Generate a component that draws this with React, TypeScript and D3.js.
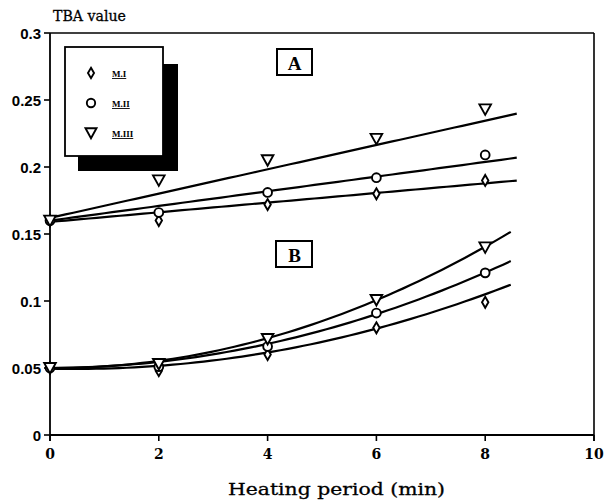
import React from "react";
import * as d3 from "d3";

// ---- data ----
const xValues = [0, 2, 4, 6, 8];
const seriesNames = ["M.I", "M.II", "M.III"];
const seriesShapes = ["diamond", "circle", "triangle"];

// Group A (linear trend)
const groupA_MI = [0.16, 0.16, 0.172, 0.18, 0.19];
const groupA_MII = [0.16, 0.166, 0.181, 0.192, 0.209];
const groupA_MIII = [0.16, 0.19, 0.205, 0.221, 0.243];
// Group B (quadratic trend)
const groupB_MI = [0.05, 0.048, 0.06, 0.08, 0.099];
const groupB_MII = [0.05, 0.051, 0.066, 0.091, 0.121];
const groupB_MIII = [0.05, 0.053, 0.0716, 0.1007, 0.14];

// fitted curve coefficients [a, b, c] for y = a + b x + c x^2
const fitA_MI = [0.159, 0.0036, 0];
const fitA_MII = [0.16, 0.00547, 0];
const fitA_MIII = [0.162, 0.00907, 0];
const fitB_MI = [0.0495, -0.0009, 0.00098];
const fitB_MII = [0.05, 0.0001, 0.0011];
const fitB_MIII = [0.05, -0.0002, 0.00144];
const fitEndA = 8.58;
const fitEndB = 8.47;

const xTicks = [0, 2, 4, 6, 8, 10];
const yTicks = [0, 0.05, 0.1, 0.15, 0.2, 0.25, 0.3];
const yTickLabels = ["0", "0.05", "0.1", "0.15", "0.2", "0.25", "0.3"];
const xTickLabels = ["0", "2", "4", "6", "8", "10"];

const groupA = [groupA_MI, groupA_MII, groupA_MIII];
const groupB = [groupB_MI, groupB_MII, groupB_MIII];
const fitsA = [fitA_MI, fitA_MII, fitA_MIII];
const fitsB = [fitB_MI, fitB_MII, fitB_MIII];

const W = 606;
const H = 502;
const left = 50, right = 594, top = 33, bottom = 435;

const x = d3.scaleLinear().domain([0, 10]).range([left, right]);
const y = d3.scaleLinear().domain([0, 0.3]).range([bottom, top]);

function Marker({ shape, cx, cy, s = 1 }: { shape: string; cx: number; cy: number; s?: number }) {
  const common = { fill: "#fff", stroke: "#000", strokeWidth: 1.9 };
  if (shape === "diamond") {
    const p = `${cx},${cy - 5.5 * s} ${cx + 3.2 * s},${cy} ${cx},${cy + 5.5 * s} ${cx - 3.2 * s},${cy}`;
    return <polygon points={p} {...common} />;
  }
  if (shape === "circle") {
    return <circle cx={cx} cy={cy} r={4.4 * s} {...common} />;
  }
  const p = `${cx - 5.8 * s},${cy - 5 * s} ${cx + 5.8 * s},${cy - 5 * s} ${cx},${cy + 5.5 * s}`;
  return <polygon points={p} {...common} />;
}

function curvePath(coef: number[], end: number) {
  const pts = d3.range(0, end + 0.001, end / 60).map((t) => [t, coef[0] + coef[1] * t + coef[2] * t * t] as [number, number]);
  return d3.line<[number, number]>().x((d) => x(d[0])).y((d) => y(d[1])).curve(d3.curveLinear)(pts) || "";
}

export default function App() {
  const titleFont = "'DejaVu Serif', 'Liberation Serif', serif";
  return (
    <svg width={W} height={H} style={{ position: "absolute", left: 0, top: 0, background: "#fff" }}>
      <rect x={0} y={0} width={W} height={H} fill="#fff" />
      {/* frame */}
      <line x1={left} x2={right} y1={top} y2={top} stroke="#000" strokeWidth={1.6} />
      <line x1={right} x2={right} y1={top} y2={bottom + 6} stroke="#000" strokeWidth={1.6} />
      <line x1={left} x2={right} y1={bottom} y2={bottom} stroke="#000" strokeWidth={1.8} />
      <line x1={left} x2={left} y1={top} y2={bottom + 6} stroke="#000" strokeWidth={1.8} />

      {/* y ticks */}
      {yTicks.map((t, i) => (
        <g key={"y" + i}>
          <line x1={left - 6} x2={left} y1={y(t)} y2={y(t)} stroke="#000" strokeWidth={1.6} />
          <text x={left - 9} y={y(t) + 5.5} textAnchor="end" fontFamily="'Liberation Sans', Arial, sans-serif" fontWeight="bold" fontSize={15}>
            {yTickLabels[i]}
          </text>
        </g>
      ))}
      {/* x ticks */}
      {xTicks.map((t, i) => (
        <g key={"x" + i}>
          <line x1={x(t)} x2={x(t)} y1={bottom} y2={bottom + 6} stroke="#000" strokeWidth={1.6} />
          <text x={x(t)} y={459} textAnchor="middle" fontFamily="'DejaVu Serif', serif" fontWeight="bold" fontSize={14}>
            {xTickLabels[i]}
          </text>
        </g>
      ))}

      {/* axis titles */}
      <text x={53} y={21} fontFamily={titleFont} fontSize={15} textLength={73} lengthAdjust="spacingAndGlyphs" stroke="#000" strokeWidth={0.3}>
        TBA value
      </text>
      <text x={228} y={495} fontFamily={titleFont} fontSize={17} textLength={217} lengthAdjust="spacingAndGlyphs" stroke="#000" strokeWidth={0.3}>
        Heating period (min)
      </text>

      {/* fitted curves */}
      {fitsA.map((c, i) => (
        <path key={"fa" + i} d={curvePath(c, fitEndA)} fill="none" stroke="#000" strokeWidth={2.2} />
      ))}
      {fitsB.map((c, i) => (
        <path key={"fb" + i} d={curvePath(c, fitEndB)} fill="none" stroke="#000" strokeWidth={2.2} />
      ))}

      {/* markers */}
      {[...groupA, ...groupB].map((vals, gi) =>
        vals.map((v, j) => (
          <Marker key={`m${gi}-${j}`} shape={seriesShapes[gi % 3]} cx={x(xValues[j])} cy={y(v)} />
        ))
      )}

      {/* group labels */}
      <rect x={277} y={49} width={35} height={26} fill="#fff" stroke="#000" strokeWidth={2} />
      <text x={294.5} y={70} textAnchor="middle" fontFamily="'Liberation Serif', serif" fontWeight="bold" fontSize={19}>A</text>
      <rect x={276} y={241} width={36} height={26} fill="#fff" stroke="#000" strokeWidth={2} />
      <text x={294.5} y={262} textAnchor="middle" fontFamily="'Liberation Serif', serif" fontWeight="bold" fontSize={19}>B</text>

      {/* legend */}
      <rect x={78} y={64} width={100} height={107} fill="#000" />
      <rect x={65} y={47} width={98} height={109} fill="#fff" stroke="#000" strokeWidth={1.8} />
      {seriesNames.map((n, i) => (
        <g key={"l" + i}>
          <Marker shape={seriesShapes[i]} cx={91} cy={73 + i * 30} s={0.95} />
          <text x={112} y={77 + i * 30} fontFamily="'Liberation Serif', serif" fontWeight="bold" fontSize={9} textDecoration="underline">
            {n}
          </text>
        </g>
      ))}
    </svg>
  );
}
